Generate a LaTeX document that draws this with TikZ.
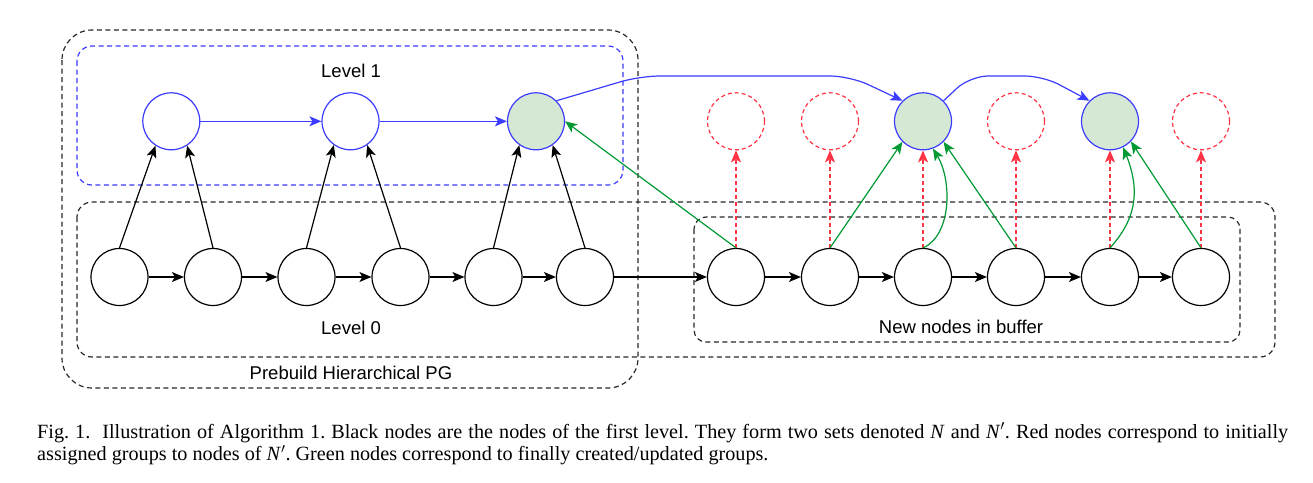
\documentclass[tikz,border=0pt]{standalone}
\usepackage{fontspec}
\setmainfont{Liberation Serif}
\setsansfont{Liberation Sans}
\usetikzlibrary{arrows.meta}

\definecolor{lvlblue}{RGB}{60,60,255}
\definecolor{grpgreen}{RGB}{0,153,51}
\definecolor{grpfill}{RGB}{213,232,212}
\definecolor{grpred}{RGB}{255,51,68}
\definecolor{boxgray}{RGB}{40,40,40}

\begin{document}
\begin{tikzpicture}[
    x = 1pt, y = -1pt,
    >={Stealth[length=12pt, width=10pt, inset=3pt]},
    vertex/.style = {circle, draw=black, line width=1.2pt, minimum size=57pt, inner sep=0pt},
    lvlvertex/.style = {vertex, draw=lvlblue},
    grpvertex/.style = {lvlvertex, fill=grpfill},
    redvertex/.style = {vertex, draw=grpred, dash pattern=on 4pt off 3pt},
    box/.style = {draw=boxgray, line width=1.2pt, dash pattern=on 5pt off 3.5pt},
    link/.style = {->, line width=1.2pt},
    bluelink/.style = {link, lvlblue},
    greenlink/.style = {link, grpgreen},
    redlink/.style = {link, grpred, dash pattern=on 4pt off 3pt},
    tag/.style = {font=\fontsize{18.5}{22}\selectfont\sffamily, inner sep=0pt}]

\useasboundingbox (0,0) rectangle (1313,482);

% The dashed groups
\draw[box, rounded corners=30pt] (62,30) rectangle (638,388);
\draw[box, draw=lvlblue, rounded corners=15pt] (77,46) rectangle (623,185);
\draw[box, rounded corners=15pt] (77,202) rectangle (1275,357);
\draw[box, rounded corners=12pt] (694,217) rectangle (1240,342);

\node[tag] (lvlone) at (351,71) {Level 1};
\node[tag] (lvlzero) at (351,328) {Level 0};
\node[tag] (prebuild) at (351,373) {Prebuild Hierarchical PG};
\node[tag] (buffer) at (961,327) {New nodes in buffer};

% Level 0
\node[vertex] (a1) at (119.5,277) {};
\node[vertex] (a2) at (213,277) {};
\node[vertex] (a3) at (306.5,277) {};
\node[vertex] (a4) at (400.5,277) {};
\node[vertex] (a5) at (493.5,277) {};
\node[vertex] (a6) at (585,277) {};

% New nodes in buffer
\node[vertex] (c1) at (736,277) {};
\node[vertex] (c2) at (830,277) {};
\node[vertex] (c3) at (923,277) {};
\node[vertex] (c4) at (1016,277) {};
\node[vertex] (c5) at (1110,277) {};
\node[vertex] (c6) at (1201,277) {};

% Level 1
\node[lvlvertex] (b1) at (171.3,121.3) {};
\node[lvlvertex] (b2) at (350.5,121.3) {};
\node[grpvertex] (b3) at (536,121.3) {};

% Groups of the buffer
\node[redvertex] (r1) at (736,121.3) {};
\node[redvertex] (r2) at (830,121.3) {};
\node[grpvertex] (g1) at (923,121.3) {};
\node[redvertex] (r3) at (1016,121.3) {};
\node[grpvertex] (g2) at (1110,121.3) {};
\node[redvertex] (r4) at (1201,121.3) {};

% Links of level 0
\draw[link] (a1) -- (a2);
\draw[link] (a2) -- (a3);
\draw[link] (a3) -- (a4);
\draw[link] (a4) -- (a5);
\draw[link] (a5) -- (a6);
\draw[link] (a6) -- (c1);
\draw[link] (c1) -- (c2);
\draw[link] (c2) -- (c3);
\draw[link] (c3) -- (c4);
\draw[link] (c4) -- (c5);
\draw[link] (c5) -- (c6);

\draw[link] (a1.north) -- (b1.237);
\draw[link] (a2.north) -- (b1.303);
\draw[link] (a3.north) -- (b2.235);
\draw[link] (a4.north) -- (b2.305);
\draw[link] (a5.north) -- (b3.235);
\draw[link] (a6.north) -- (b3.305);

% Links of level 1
\draw[bluelink] (b1) -- (b2);
\draw[bluelink] (b2) -- (b3);
\draw[bluelink, rounded corners=20pt] (b3.45) -- (640,76) -- (850,76) -- (g1.135);
\draw[bluelink, rounded corners=18pt] (g1.45) -- (970,76) -- (1043,76) -- (g2.135);

% Initial groups
\draw[redlink] (c1.north) -- (r1.south);
\draw[redlink] (c2.north) -- (r2.south);
\draw[redlink] (c3.north) -- (g1.south);
\draw[redlink] (c4.north) -- (r3.south);
\draw[redlink] (c5.north) -- (g2.south);
\draw[redlink] (c6.north) -- (r4.south);

% Final groups
\draw[greenlink] (c1.north) -- (b3.east);
\draw[greenlink] (c2.north) -- (g1.225);
\draw[greenlink] (c3.north) .. controls (952,235) and (952,180) .. (g1.290);
\draw[greenlink] (c4.north) -- (g1.315);
\draw[greenlink] (c5.north) .. controls (1140,215) and (1138,185) .. (g2.297);
\draw[greenlink] (c6.north) -- (g2.316);

\node[anchor=base west, text width=1251pt, align=justify, inner sep=0pt,
      font=\fontsize{20.2}{22.6}\selectfont\frenchspacing] (caption) at (37,438.3)
  {Fig.~1.\hspace{12pt}Illustration of Algorithm 1. Black nodes are the nodes of the first level. They form two sets denoted \textit{N} and \textit{N}$'$. Red nodes correspond to initially\linebreak assigned groups to nodes of \textit{N}$'$. Green nodes correspond to finally created/updated groups.};

\end{tikzpicture}
\end{document}
